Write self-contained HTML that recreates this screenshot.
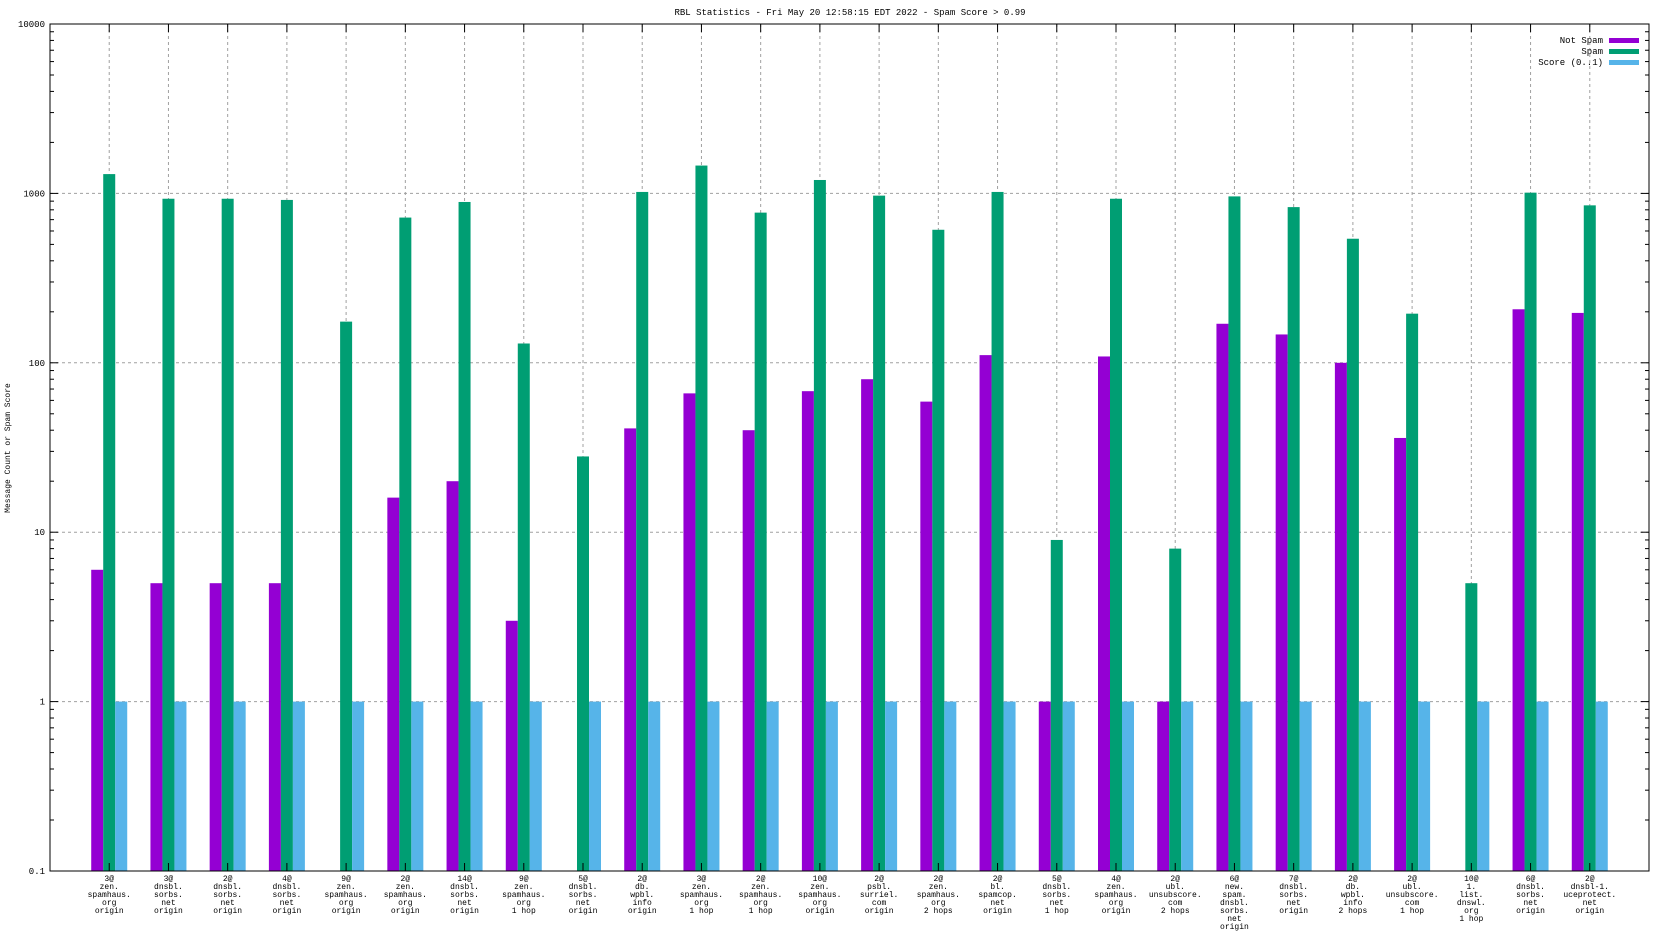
<!DOCTYPE html>
<html><head><meta charset="utf-8"><style>
html,body{margin:0;padding:0;background:#fff;}
svg{display:block;font-family:"Liberation Mono",monospace;}
</style></head><body>
<svg id="chart" width="1664" height="936" xmlns="http://www.w3.org/2000/svg">
<text x="850" y="15" font-size="9" text-anchor="middle">RBL Statistics - Fri May 20 12:58:15 EDT 2022 - Spam Score &gt; 0.99</text>
<text transform="translate(10,448) rotate(-90)" font-size="8" text-anchor="middle">Message Count or Spam Score</text>
<g id="grid"></g><g id="bars"></g><g id="axes"></g>
</svg>
<script>
const categories=[
["3@","zen.","spamhaus.","org","origin"],["3@","dnsbl.","sorbs.","net","origin"],["2@","dnsbl.","sorbs.","net","origin"],["4@","dnsbl.","sorbs.","net","origin"],["9@","zen.","spamhaus.","org","origin"],["2@","zen.","spamhaus.","org","origin"],["14@","dnsbl.","sorbs.","net","origin"],["9@","zen.","spamhaus.","org","1 hop"],["5@","dnsbl.","sorbs.","net","origin"],["2@","db.","wpbl.","info","origin"],["3@","zen.","spamhaus.","org","1 hop"],["2@","zen.","spamhaus.","org","1 hop"],["10@","zen.","spamhaus.","org","origin"],["2@","psbl.","surriel.","com","origin"],["2@","zen.","spamhaus.","org","2 hops"],["2@","bl.","spamcop.","net","origin"],["5@","dnsbl.","sorbs.","net","1 hop"],["4@","zen.","spamhaus.","org","origin"],["2@","ubl.","unsubscore.","com","2 hops"],["6@","new.","spam.","dnsbl.","sorbs.","net","origin"],["7@","dnsbl.","sorbs.","net","origin"],["2@","db.","wpbl.","info","2 hops"],["2@","ubl.","unsubscore.","com","1 hop"],["10@","1.","list.","dnswl.","org","1 hop"],["6@","dnsbl.","sorbs.","net","origin"],["2@","dnsbl-1.","uceprotect.","net","origin"]];
const notSpam=[6,5,5,5,null,16,20,3,null,41,66,40,68,80,59,111,1,109,1,170,147,100,36,null,207,197];
const spam=[1300,930,930,915,175,720,890,130,28,1020,1460,770,1200,970,610,1020,9,930,8,960,830,540,195,5,1010,850];
const score=[1,1,1,1,1,1,1,1,1,1,1,1,1,1,1,1,1,1,1,1,1,1,1,1,1,1];
const yTicks=[0.1,1,10,100,1000,10000];
const yTickLabels=["0.1","1","10","100","1000","10000"];
const seriesNames=["Not Spam","Spam","Score (0..1)"];
const colors=["#9400d3","#009e73","#56b4e9"];
const NS="http://www.w3.org/2000/svg";
const L=50,R=1649,T=24,B=871;
const n=categories.length;
const xs=i=>L+(R-L)/(n+1)*(i+1);
const ys=v=>B-(Math.log10(v)+1)/5*(B-T);
function mk(par,tag,at){const e=document.createElementNS(NS,tag);for(const k in at)e.setAttribute(k,at[k]);document.getElementById(par).appendChild(e);return e;}
// grid
yTicks.forEach((v,k)=>{
 if(k>0&&k<yTicks.length-1){const g=mk("grid","line",{x1:L,x2:R,y1:ys(v),y2:ys(v),stroke:"#a0a0a0","stroke-dasharray":"3,3","stroke-width":1});
 
 }
 const t=mk("axes","text",{x:L-5,y:ys(v)+3,"font-size":9,"text-anchor":"end"});t.textContent=yTickLabels[k];
 
 
 mk("axes","line",{x1:L,x2:L+8,y1:ys(v),y2:ys(v),stroke:"#000"});
 mk("axes","line",{x1:R,x2:R-8,y1:ys(v),y2:ys(v),stroke:"#000"});
 if(k<yTicks.length-1){for(let m=2;m<10;m++){const y=ys(v*m);
  mk("axes","line",{x1:L,x2:L+4,y1:y,y2:y,stroke:"#000"});
  mk("axes","line",{x1:R,x2:R-4,y1:y,y2:y,stroke:"#000"});}}
});
categories.forEach((c,i)=>{
 const x=xs(i);
 const g=mk("grid","line",{x1:x,x2:x,y1:T,y2:B,stroke:"#a0a0a0","stroke-dasharray":"3,3"});
 
 
 mk("axes","line",{x1:x,x2:x,y1:B,y2:B-8,stroke:"#000"});
 mk("axes","line",{x1:x,x2:x,y1:T,y2:T+8,stroke:"#000"});
 c.forEach((s,j)=>{const t=mk("axes","text",{x:x,y:881+j*8,"font-size":8,"text-anchor":"middle"});t.textContent=s;
  
  });
 [notSpam,spam,score].forEach((arr,k)=>{const v=arr[i];if(v==null)return;
  const bx=x-18+k*12;const y=ys(v);
  const r=mk("bars","rect",{x:bx,y:y,width:12,height:B-y,fill:colors[k]});
  
  });
});
const fr=mk("axes","rect",{x:L,y:T,width:R-L,height:B-T,fill:"none",stroke:"#000","stroke-width":1});


seriesNames.forEach((s,k)=>{const y=40+k*11;
 const t=mk("axes","text",{x:1603,y:y+3,"font-size":9,"text-anchor":"end"});t.textContent=s;
 
 
 const r=mk("axes","rect",{x:1609,y:y-2,width:30,height:5,fill:colors[k]});
 
 });
</script>
</body></html>
